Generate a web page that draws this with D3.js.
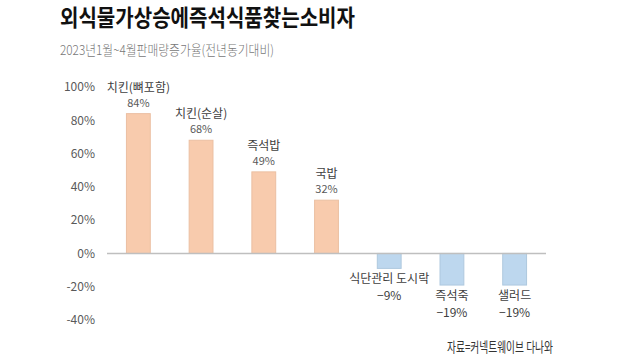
<!DOCTYPE html>
<html><head><meta charset="utf-8">
<script src="https://cdn.jsdelivr.net/npm/d3@7"></script>
<style>body{margin:0;background:#fff}svg{display:block}</style>
</head><body>
<svg id="c" width="620" height="360"></svg>
<script>
const categories = ["치킨(뼈포함)","치킨(순살)","즉석밥","국밥","식단관리 도시락","즉석죽","샐러드"];
const values = [84,68,49,32,-9,-19,-19];
const valueLabels = ["84%","68%","49%","32%","−9%","−19%","−19%"];
const yTicks = [100,80,60,40,20,0,-20,-40];
const yTickLabels = ["100%","80%","60%","40%","20%","0%","-20%","-40%"];
const title = "외식물가상승에즉석식품찾는소비자";
const subtitle = "2023년1월~4월판매량증가율(전년동기대비)";
const source = "자료=커넥트웨이브 다나와";

const svg = d3.select("#c");
const font = "'Noto Sans CJK KR','Noto Sans',sans-serif";
const x = d3.scaleBand().domain(categories).range([107,546]).paddingInner(0.62).paddingOuter(0.31);
const y = d3.scaleLinear().domain([-40,100]).range([320,87]);

svg.append("text").attr("x",60).attr("y",26).attr("font-family",font).attr("font-weight",700)
  .attr("font-size",23).attr("fill","#111").attr("textLength",295).attr("lengthAdjust","spacingAndGlyphs").text(title);
svg.append("text").attr("x",60).attr("y",55).attr("font-family",font).attr("font-weight",300)
  .attr("font-size",13.5).attr("fill","#777").attr("textLength",214).attr("lengthAdjust","spacingAndGlyphs").text(subtitle);

const yAxis = d3.axisLeft(y).tickValues(yTicks).tickSize(0).tickPadding(0)
  .tickFormat((d,i)=>yTickLabels[i]);
const ga = svg.append("g").attr("transform","translate(95,0)").call(yAxis);
ga.select(".domain").remove();
ga.selectAll("text").attr("font-family",font).attr("font-size",12).attr("fill","#595959");

svg.selectAll("rect.bar").data(values).join("rect").attr("class","bar")
  .attr("x",(d,i)=>x(categories[i])).attr("width",x.bandwidth())
  .attr("y",d=>y(Math.max(0,d))).attr("height",d=>Math.abs(y(d)-y(0)))
  .attr("fill",d=>d>=0?"#F8CBAD":"#BDD7EE")
  .attr("stroke",d=>d>=0?"#ebbfa2":"#aec8de").attr("stroke-width",1);

svg.append("line").attr("x1",107).attr("x2",546).attr("y1",y(0)).attr("y2",y(0))
  .attr("stroke","#BFBFBF").attr("stroke-width",1.5);

const g = svg.append("g").attr("font-family",font).attr("text-anchor","middle");
values.forEach((v,i)=>{
  const cx = x(categories[i]) + x.bandwidth()/2;
  if (v>=0) {
    const top = y(v);
    g.append("text").attr("x",cx).attr("y",top-22).attr("font-size",12).attr("fill","#404040").text(categories[i]);
    g.append("text").attr("x",cx).attr("y",top-7).attr("font-size",11).attr("fill","#595959").text(valueLabels[i]);
  } else {
    const bot = y(v);
    g.append("text").attr("x",cx).attr("y",bot+15).attr("font-size",12).attr("fill","#404040").text(categories[i]);
    g.append("text").attr("x",cx).attr("y",bot+32).attr("font-size",12).attr("fill","#404040").text(valueLabels[i]);
  }
});

svg.append("text").attr("x",447).attr("y",352).attr("font-family",font).attr("font-weight",400)
  .attr("font-size",14).attr("fill","#333").attr("textLength",106).attr("lengthAdjust","spacingAndGlyphs").text(source);
</script>
</body></html>
